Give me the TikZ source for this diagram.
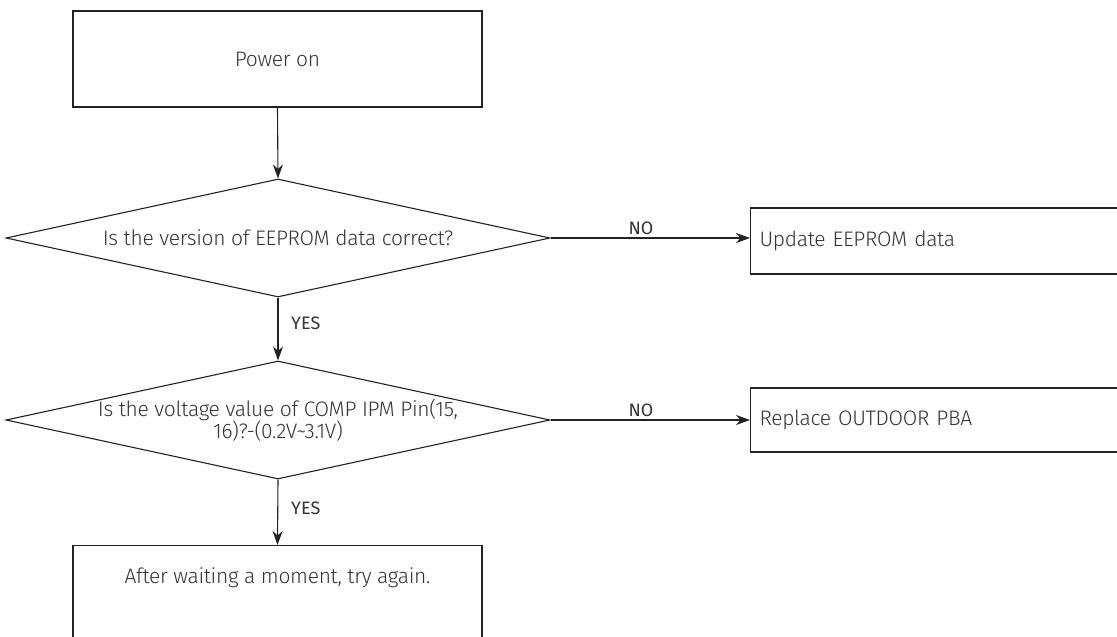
\documentclass[tikz,border=0pt]{standalone}
\usepackage{fontspec}
\setmainfont{Fira Sans}[UprightFont=* Light, LetterSpace=-1.5]
\newfontfamily\lblfont{Fira Sans}
\usetikzlibrary{shapes.geometric,arrows.meta}
\definecolor{linecol}{HTML}{222222}
\definecolor{txtcol}{HTML}{333333}
\tikzset{
  box/.style={draw=linecol, line width=1.1pt, rectangle, inner sep=0pt},
  dia/.style={draw=linecol, line width=1.1pt, diamond, inner sep=0pt, minimum width=544pt, minimum height=118pt, aspect=4.6},
  txt/.style={text=txtcol, font=\fontsize{21}{21}\selectfont, inner sep=0pt},
  lbl/.style={text=txtcol, font=\lblfont\fontsize{18}{18}\selectfont, inner sep=0pt},
  arr/.style={draw=linecol, line width=1.1pt, -{Stealth[length=14pt,width=10pt]}},
}
\begin{document}
\begin{tikzpicture}[x=1pt,y=1pt]
\useasboundingbox (0,0) rectangle (1117,-637);
\clip (0,0) rectangle (1117,-637);
% nodes
\node[box, minimum width=409pt, minimum height=96pt] (power) at (277.5,-59) {};
\node[txt] (powert) at (power.center) {Power on};
\node[dia] (d1) at (278,-238) {};
\node[txt] (d1t) at (d1.center) {Is the version of EEPROM data correct?};
\node[box, minimum width=400pt, minimum height=66pt, anchor=west, text width=382pt, align=left, txt, inner sep=9pt] (upd) at (750,-241) {Update EEPROM data};
\node[dia] (d2) at (278,-420) {};
\node[txt, align=center, font=\fontsize{21}{22}\selectfont] (d2t) at (d2.center) {Is the voltage value of COMP IPM Pin(15,\\16)?-(0.2V\textasciitilde 3.1V)};
\node[box, minimum width=400pt, minimum height=64pt, anchor=west, text width=382pt, align=left, txt, inner sep=9pt] (rep) at (750,-420) {Replace OUTDOOR PBA};
\node[box, minimum width=409pt, minimum height=110pt, anchor=north] (wait) at (277.5,-545) {};
\node[txt] (waitt) at (277.5,-578) {After waiting a moment, try again.};
% connectors
\draw[arr] (power.south) -- (d1.north);
\draw[arr] (d1.east) -- (d1.east -| upd.west);
\draw[arr] (d1.south) -- (d2.north);
\draw[arr] (d2.east) -- (d2.east -| rep.west);
\draw[arr] (d2.south) -- (wait.north);
% labels
\node[lbl] (no1) at (641,-228) {NO};
\node[lbl] (no2) at (641,-410) {NO};
\node[lbl, anchor=west] (yes1) at (291,-323) {YES};
\node[lbl, anchor=west] (yes2) at (291,-508) {YES};
\end{tikzpicture}
\end{document}
